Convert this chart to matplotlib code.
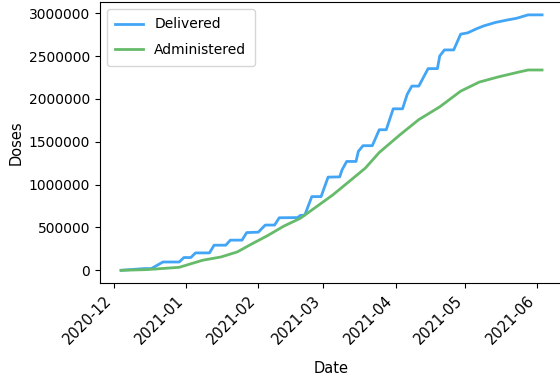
import pandas as pd
import matplotlib
matplotlib.use("Agg")
import matplotlib.pyplot as plt

# cumulative doses
delivered_dates = ["2020-12-04", "2020-12-14", "2020-12-17", "2020-12-22", "2020-12-29",
                   "2020-12-31", "2021-01-03", "2021-01-05", "2021-01-11", "2021-01-13",
                   "2021-01-18", "2021-01-20", "2021-01-25", "2021-01-27", "2021-02-01",
                   "2021-02-04", "2021-02-08", "2021-02-10", "2021-02-18", "2021-02-19",
                   "2021-02-21", "2021-02-24", "2021-02-28", "2021-03-03", "2021-03-08",
                   "2021-03-09", "2021-03-11", "2021-03-15", "2021-03-16", "2021-03-18",
                   "2021-03-22", "2021-03-25", "2021-03-28", "2021-03-31", "2021-04-04",
                   "2021-04-06", "2021-04-08", "2021-04-11", "2021-04-15", "2021-04-19",
                   "2021-04-20", "2021-04-22", "2021-04-26", "2021-04-29", "2021-05-02",
                   "2021-05-06", "2021-05-09", "2021-05-14", "2021-05-19", "2021-05-23",
                   "2021-05-28", "2021-06-03"]
delivered = [0, 20000, 20000, 97000, 97000,
             149000, 149000, 203000, 203000, 293000,
             293000, 352000, 352000, 440000, 445000,
             528000, 528000, 613000, 615000, 640000,
             645000, 860000, 860000, 1087000, 1090000,
             1172000, 1270000, 1270000, 1387000, 1454000,
             1454000, 1640000, 1640000, 1884000, 1884000,
             2052000, 2149000, 2149000, 2353000, 2353000,
             2500000, 2571000, 2571000, 2755000, 2770000,
             2820000, 2852000, 2892000, 2920000, 2940000,
             2980000, 2980000]

administered_dates = ["2020-12-04", "2020-12-15", "2020-12-29", "2021-01-08", "2021-01-16",
                      "2021-01-23", "2021-01-29", "2021-02-05", "2021-02-12", "2021-02-19",
                      "2021-02-26", "2021-03-05", "2021-03-12", "2021-03-19", "2021-03-25",
                      "2021-04-03", "2021-04-11", "2021-04-20", "2021-04-29", "2021-05-07",
                      "2021-05-15", "2021-05-24", "2021-05-28", "2021-06-03"]
administered = [0, 8000, 35000, 117000, 156000,
                215000, 305000, 405000, 516000, 606000,
                742000, 879000, 1035000, 1192000, 1375000,
                1583000, 1758000, 1907000, 2090000, 2196000,
                2255000, 2313000, 2337000, 2337000]

fig = plt.figure(figsize=(5.6, 3.81), dpi=100)
ax = fig.add_axes([0.1786, 0.257, 0.827, 0.7375])

ax.plot(pd.to_datetime(delivered_dates), delivered, color="#42A5F5", lw=2, label="Delivered")
ax.plot(pd.to_datetime(administered_dates), administered, color="#66BB6A", lw=2, label="Administered")

ax.ticklabel_format(axis="y", style="plain", useOffset=False)
ax.tick_params(axis="x", labelsize=10.5)
ax.set_xlabel("Date", fontsize=10.5, labelpad=10)
ax.set_ylabel("Doses", fontsize=10.5)
plt.setp(ax.get_xticklabels(), rotation=45, ha="right")
ax.legend(loc="upper left", fontsize=10, labelspacing=0.85, borderpad=0.6)

fig.savefig("out.png", dpi=100)
